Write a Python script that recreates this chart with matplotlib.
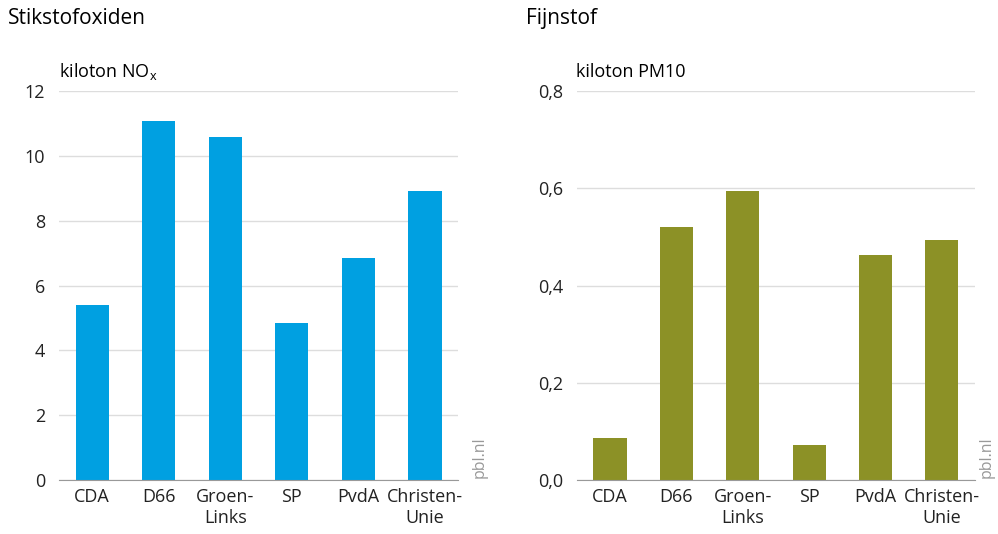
import numpy as np
import matplotlib.pyplot as plt
from matplotlib.ticker import FuncFormatter

# data
partijen = ["CDA", "D66", "Groen-\nLinks", "SP", "PvdA", "Christen-\nUnie"]
nox = [5.4, 11.08, 10.58, 4.85, 6.85, 8.92]
pm10 = [0.086, 0.52, 0.594, 0.072, 0.463, 0.494]

blauw = "#00a0e1"
olijf = "#8c9126"

plt.rcParams["font.family"] = ["Open Sans", "DejaVu Sans"]

fig = plt.figure(figsize=(9.98, 5.34), dpi=100)
ax1 = fig.add_axes([0.0591, 0.1011, 0.4, 0.7285])
ax2 = fig.add_axes([0.578, 0.1011, 0.399, 0.7285])


def opmaak(ax, waarden, kleur, yticks, fmt, pbl_x):
    x = np.arange(len(partijen))
    ax.bar(x, waarden, width=0.5, color=kleur, zorder=3)
    ax.set_xlim(-0.5, len(partijen) - 0.5)
    ax.set_ylim(0, yticks[-1])
    ax.set_yticks(yticks)
    ax.yaxis.set_major_formatter(FuncFormatter(fmt))
    ax.set_xticks(x)
    ax.set_xticklabels(partijen, fontsize=13, linespacing=1.2)
    ax.grid(axis="y", color="#dddddd", lw=1, zorder=0)
    for s in ["top", "right", "left"]:
        ax.spines[s].set_visible(False)
    ax.spines["bottom"].set_color("#999999")
    ax.spines["bottom"].set_zorder(4)
    ax.tick_params(axis="both", length=0, labelsize=13, colors="#222222")
    ax.tick_params(axis="y", pad=10)
    ax.tick_params(axis="x", pad=6)
    fig.text(pbl_x, 0.104, "pbl.nl", rotation=90,
             ha="center", va="bottom", fontsize=11.5, color="#999999")


opmaak(ax1, nox, blauw, [0, 2, 4, 6, 8, 10, 12], lambda v, p: f"{v:g}", 0.481)
opmaak(ax2, pm10, olijf, [0, 0.2, 0.4, 0.6, 0.8],
       lambda v, p: f"{v:.1f}".replace(".", ","), 0.989)

fig.text(0.008, 0.966, "Stikstofoxiden", fontsize=15, va="center", ha="left")
fig.text(0.527, 0.966, "Fijnstof", fontsize=15, va="center", ha="left")
fig.text(0.059, 0.866, r"kiloton NO$_\mathregular{x}$", fontsize=13, va="center", ha="left")
fig.text(0.577, 0.866, "kiloton PM10", fontsize=13, va="center", ha="left")

fig.savefig("out.png", dpi=100)
